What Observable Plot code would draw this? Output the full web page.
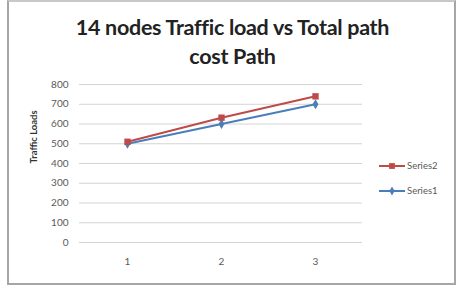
<!DOCTYPE html>
<html>
<head>
<meta charset="utf-8">
<script src="https://cdn.jsdelivr.net/npm/d3@7"></script>
<script src="https://cdn.jsdelivr.net/npm/@observablehq/plot@0.6"></script>
<style>
  html, body { margin: 0; padding: 0; background: #fff; }
  #frame {
    position: relative; width: 463px; height: 290px; overflow: hidden;
    font-family: Lato, "Open Sans", sans-serif;
  }
  #border {
    position: absolute; left: 7px; top: 0px; width: 445px; height: 281px;
    border: 2px solid #a6a6a6; border-top-color: #c8c8c8;
  }
  #title {
    position: absolute; left: 0; width: 463px; top: 13px; text-align: center;
    font-weight: bold; font-size: 21.5px; line-height: 29px; color: #222;
    letter-spacing: -0.3px; padding-left: 1px;
  }
  #chart { position: absolute; left: 0; top: 72px; }
  #legend {
    position: absolute; left: 379px; top: 153px;
    font-size: 9.5px; color: #595959;
  }
  .item { display: flex; align-items: center; height: 25px; }
  .item svg { margin-right: 2px; }
</style>
</head>
<body>
<div id="frame">
  <div id="border"></div>
  <div id="title">14 nodes Traffic load vs Total path<br>cost Path</div>
  <div id="chart"></div>
  <div id="legend"></div>
</div>
<script>
// Traffic load per test case
const cases = [1, 2, 3];
const series1 = [500, 600, 700];
const series2 = [510, 632, 740];
const yTicks = [0, 100, 200, 300, 400, 500, 600, 700, 800];

const seriesNames = ["Series2", "Series1"];
const seriesColors = ["#be4b48", "#4a7ebb"];
const seriesSymbols = ["square", "diamond"];

const rows = [
  ...cases.map((c, i) => ({case: c, load: series1[i], series: "Series1"})),
  ...cases.map((c, i) => ({case: c, load: series2[i], series: "Series2"}))
];

const color = {domain: seriesNames, range: seriesColors};

const chart = Plot.plot({
  width: 380,
  height: 200,
  marginLeft: 79,
  marginRight: 18,
  marginTop: 12,
  marginBottom: 30,
  style: {fontFamily: "Lato, 'Open Sans', sans-serif", fontSize: "10px", color: "#595959", background: "transparent"},
  x: {type: "point", domain: cases, padding: 0.5, label: null},
  y: {domain: [0, 800], label: null},
  color,
  symbol: {domain: seriesNames, range: seriesSymbols},
  marks: [
    Plot.ruleY(yTicks, {stroke: "#d4d4d4", strokeWidth: 1}),
    Plot.ruleX([0], {frameAnchor: "left", stroke: "#b0b0b0"}),
    Plot.axisY(yTicks, {tickSize: 0, tickPadding: 11, fill: "#595959", fontSize: 10}),
    Plot.axisX(cases, {tickSize: 0, tickPadding: 15, fill: "#595959", fontSize: 10}),
    Plot.text(["Traffic Loads"], {
      frameAnchor: "left", dx: -46, rotate: -90,
      fontWeight: "bold", fontSize: 9.5, fill: "#333"
    }),
    Plot.line(rows.filter(d => d.series === "Series1"), {x: "case", y: "load", stroke: "series", strokeWidth: 2}),
    Plot.dot(rows.filter(d => d.series === "Series1"), {x: "case", y: "load", fill: "series", symbol: "series", r: 3.1, stroke: "none"}),
    Plot.line(rows.filter(d => d.series === "Series2"), {x: "case", y: "load", stroke: "series", strokeWidth: 2}),
    Plot.dot(rows.filter(d => d.series === "Series2"), {x: "case", y: "load", fill: "series", symbol: "series", r: 3.6, stroke: "none"})
  ]
});
document.getElementById("chart").appendChild(chart);

// Legend: line sample with marker, then series name
const legend = d3.select("#legend");
seriesNames.forEach((name, i) => {
  const item = legend.append("div").attr("class", "item");
  const s = item.append("svg").attr("width", 26).attr("height", 10);
  s.append("line").attr("x1", 0).attr("x2", 26).attr("y1", 5).attr("y2", 5)
    .attr("stroke", seriesColors[i]).attr("stroke-width", 2);
  const sym = d3.symbol(seriesSymbols[i] === "square" ? d3.symbolSquare : d3.symbolDiamond, seriesSymbols[i] === "square" ? 34 : 24)();
  s.append("path").attr("d", sym).attr("transform", "translate(13,5)").attr("fill", seriesColors[i]);
  item.append("span").text(name);
});
</script>
</body>
</html>
